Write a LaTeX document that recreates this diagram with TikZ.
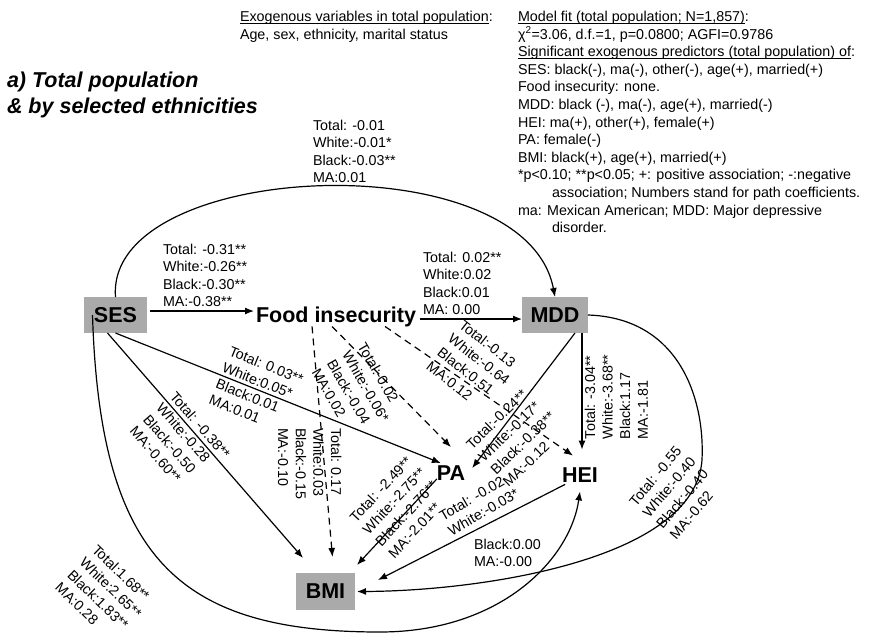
\documentclass[tikz,border=0pt]{standalone}
\usepackage{fontspec}
\setmainfont{Liberation Sans}
\usetikzlibrary{arrows.meta}
\definecolor{boxgray}{RGB}{170,170,170}
\newcommand{\mylines}[1]{\begin{tabular}[t]{@{}l@{}}#1\end{tabular}}
\newcommand{\myul}[1]{\setbox0\hbox{#1}\rlap{\rule[-2.2pt]{\wd0}{0.7pt}}\box0}
\begin{document}
\begin{tikzpicture}[x=1pt,y=-1pt,
  every node/.style={inner sep=0pt, outer sep=0pt},
  txt/.style={font=\fontsize{14.3}{17.6}\selectfont, anchor=base west},
  big/.style={font=\fontsize{21.5}{24}\selectfont\bfseries},
  box/.style={big, fill=boxgray, minimum height=36pt},
  arr/.style={-{Latex[length=9pt,width=7pt]}, line width=1.2pt},
  dsh/.style={arr, dash pattern=on 7pt off 5pt},
]
\useasboundingbox (0,0) rectangle (870,638);

% header texts
\node[txt, font=\fontsize{21.5}{26}\selectfont\bfseries\itshape] (title) at (7,87) {\mylines{a) Total population\\\& by selected ethnicities}};
\node[txt] (exo) at (240,21.5) {\mylines{\myul{Exogenous variables in total population}:\\Age, sex, ethnicity, marital status}};
\node[txt] (fit) at (518,21.5) {\mylines{\myul{Model fit (total population; N=1,857)}:\\
χ\textsuperscript{2}=3.06, d.f.=1, p=0.0800; AGFI=0.9786\\
\myul{Significant exogenous predictors (total population) of}:\\
SES: black(-), ma(-), other(-), age(+), married(+)\\
Food insecurity: none.\\
MDD: black (-), ma(-), age(+), married(-)\\
HEI: ma(+), other(+), female(+)\\
PA: female(-)\\
BMI: black(+), age(+), married(+)\\
{}*p<0.10; **p<0.05; +: positive association; -:negative\\
\hspace*{34pt}association; Numbers stand for path coefficients.\\
ma: Mexican American; MDD: Major depressive\\
\hspace*{34pt}disorder.}};

% main nodes
\node[box, minimum width=63pt] (ses) at (115.5,315) {SES};
\node[big, anchor=base west] (food) at (256,322) {Food insecurity};
\node[box, minimum width=66pt] (mdd) at (555,315) {MDD};
\node[big] (pa) at (451,473.5) {PA};
\node[big] (hei) at (580,475) {HEI};
\node[box, minimum width=59pt, minimum height=37pt] (bmi) at (325.5,591.5) {BMI};

% connectors
\coordinate (sf) at ([xshift=3pt,yshift=4pt]ses.east);
\draw[arr, shorten >=2pt] (sf) -- (sf -| food.west);
\coordinate (fm) at ([yshift=-4pt]mdd.west);
\draw[arr, shorten <=4pt] (fm -| food.east) -- (fm);
\draw[arr] (ses.north) .. controls (105,160) and (525,140) .. (mdd.north);
\draw[arr] (ses.south) -- ([xshift=4pt,yshift=3pt]pa.north west);
\draw[arr] ([xshift=-8pt]ses.south) -- ([xshift=7pt,yshift=15pt]bmi.north west);
\draw[arr] ([xshift=-23pt]ses.center) .. controls (100,560) and (180,632) .. (380,632) .. controls (500,632) and (570,560) .. ([yshift=-9pt]hei.south);
\draw[dsh] ([xshift=-24pt]food.south) -- ([xshift=7pt,yshift=16pt]bmi.north);
\draw[dsh] ([xshift=-4pt]food.south) -- ([yshift=19pt]pa.north);
\draw[dsh] ([xshift=49pt]food.south) -- ([xshift=-7pt,yshift=12pt]hei.north);
\draw[arr] ([xshift=20pt]mdd.south) -- ([xshift=7pt,yshift=-2pt]pa.north east);
\draw[arr] ([xshift=-6pt]mdd.south east) -- ([xshift=2pt,yshift=18pt]hei.north);
\draw[arr] (mdd.east) .. controls (680,318) and (705,400) .. (702,460) .. controls (695,560) and (480,591) .. ([xshift=2pt]bmi.east);
\draw[arr] ([yshift=2pt]pa.south west) -- ([xshift=2pt,yshift=8pt]bmi.north east);
\draw[arr] ([xshift=3pt,yshift=-2pt]hei.south west) -- ([xshift=23pt,yshift=11.5pt]bmi.east);

% path coefficient labels
\node[txt] (l1) at (313,130) {\mylines{Total: -0.01\\White:-0.01*\\Black:-0.03**\\MA:0.01}};
\node[txt] (l2) at (163,254) {\mylines{Total: -0.31**\\White:-0.26**\\Black:-0.30**\\MA:-0.38**}};
\node[txt] (l3) at (423,262) {\mylines{Total: 0.02**\\White:0.02\\Black:0.01\\MA: 0.00}};
\node[txt, rotate=-22] (l4) at (228,355) {\mylines{Total: 0.03**\\White:0.05*\\Black:0.01\\MA:0.01}};
\node[txt, rotate=-49] (l5) at (169,397) {\mylines{Total: -0.38**\\White:-0.28\\Black:-0.50\\MA:-0.60**}};
\node[txt, rotate=-44] (l6) at (91,551) {\mylines{Total:1.68**\\White:2.65**\\Black:1.83**\\MA:0.28}};
\node[txt, rotate=-60] (l7) at (357,346) {\mylines{Total:-0.02\\White:-0.06*\\Black:-0.04\\MA:0.02}};
\node[txt, rotate=-90] (l8) at (331,428) {\mylines{Total: 0.17\\White:0.03\\Black:-0.15\\MA:-0.10}};
\node[txt, rotate=-38] (l9) at (458,327) {\mylines{Total:-0.13\\White:-0.64\\Black:0.51\\MA:0.12}};
\node[txt, rotate=44] (l10) at (472,450) {\mylines{Total:-0.24**\\White:-0.17*\\Black:-0.38**\\MA:-0.12}};
\node[txt, rotate=90] (l11) at (595,439) {\mylines{Total: -3.04**\\White:-3.68**\\Black:1.17\\MA:-1.81}};
\node[txt, rotate=50] (l12) at (636,507) {\mylines{Total: -0.55\\White:-0.40\\Black:-0.40\\MA:-0.62}};
\node[txt, rotate=47] (l13) at (356,523) {\mylines{Total: -2.49**\\White:-2.75**\\Black:-2.76**\\MA:-2.01**}};
\node[txt, rotate=30] (l14) at (443,521) {\mylines{Total: -0.02\\White:-0.03*}};
\node[txt] (l15) at (474,549) {\mylines{Black:0.00\\MA:-0.00}};
\end{tikzpicture}
\end{document}
